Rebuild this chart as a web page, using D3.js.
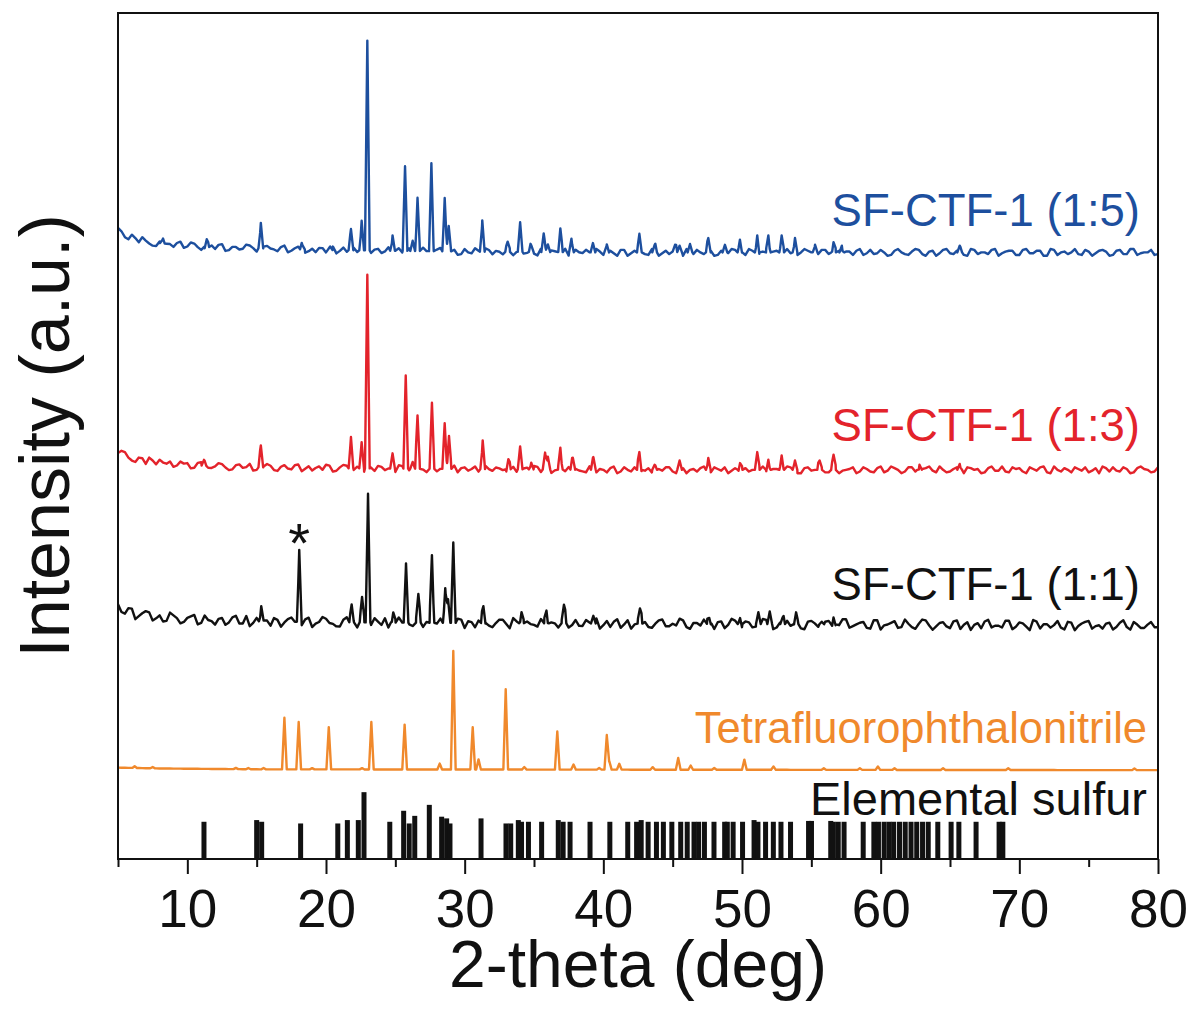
<!DOCTYPE html>
<html>
<head>
<meta charset="utf-8">
<script src="https://cdn.jsdelivr.net/npm/d3@7"></script>
<style>
  body { margin: 0; background: #fff; }
  text { font-family: "Liberation Sans", Arial, Helvetica, sans-serif; }
</style>
</head>
<body>
<svg id="chart" width="1194" height="1016"></svg>
<script>
// ---------- data (2-theta in degrees, intensity in a.u.) ----------
const xTicks = [10, 20, 30, 40, 50, 60, 70, 80];
const xMinorTicks = [5, 15, 25, 35, 45, 55, 65, 75];

const seriesNames = ["SF-CTF-1 (1:5)", "SF-CTF-1 (1:3)", "SF-CTF-1 (1:1)", "Tetrafluorophthalonitrile"];
const seriesColors = ["#1d4f9e", "#e3232b", "#111111", "#f0892c"];
const seriesOffsets = [717, 460, 279, 106];

// slowly varying background [2theta, level]
const bgBlue   = [[5, 26], [5.5, 20], [6, 17], [7, 13], [8, 11], [10, 8], [12, 6], [15, 5], [20, 3], [25, 2], [30, 1], [40, 0], [80, 0]];
const bgRed    = [[5, 22], [5.5, 17], [6, 14], [7, 11], [8, 9], [10, 6], [12, 4], [15, 3], [20, 2], [30, 1], [40, 0], [80, 0]];
const bgBlack  = [[5, 18], [5.5, 14], [6, 11], [7, 9], [8, 7], [10, 5], [12, 3], [15, 2], [20, 1], [30, 0], [80, -3]];
const bgOrange = [[5, 2], [8, 1], [15, 0], [80, -1]];

// peak list [2theta, height above background]
const peaksBlue = [[8.2, 4], [11.4, 9], [15.3, 30], [18.3, 5], [20.3, 4], [21.8, 25], [22.57, 35], [22.98, 248], [24.8, 18],
  [25.7, 100], [26.25, 15], [26.6, 63], [27.6, 104], [28.56, 63], [28.85, 30], [31.27, 37], [33.1, 12], [34.0, 32],
  [34.8, 8], [35.7, 22], [36.0, 12], [36.9, 28], [37.7, 16], [39.25, 15], [40.24, 8], [42.6, 22], [43.7, 9], [45.17, 9],
  [45.5, 11], [46.25, 9], [47.57, 17], [48.77, 9], [49.85, 15], [51.1, 20], [51.9, 20], [52.86, 20], [53.82, 17],
  [55.27, 9], [56.6, 12], [57.2, 8], [65.7, 8]];
const peaksRed = [[11.2, 7], [15.3, 26], [21.8, 37], [22.57, 31], [22.98, 229], [24.8, 18], [25.75, 112], [26.25, 9],
  [26.6, 63], [27.64, 78], [28.56, 54], [28.87, 39], [31.3, 34], [33.15, 12], [34.0, 28], [34.8, 8], [35.8, 20],
  [36.0, 13], [36.9, 26], [37.8, 14], [39.28, 15], [42.6, 21], [43.7, 6], [45.5, 7], [47.57, 14], [49.86, 8],
  [51.1, 21], [51.9, 12], [52.86, 17], [53.82, 11], [55.6, 11], [56.6, 18], [62.8, 6], [65.7, 7]];
const peaksBlack = [[15.33, 18], [18.07, 85], [21.85, 21], [22.6, 30], [23.03, 152], [24.85, 12], [25.77, 70],
  [26.66, 34], [27.64, 80], [28.6, 41], [28.8, 28], [29.18, 95], [31.35, 20], [34.1, 13], [35.9, 15], [37.16, 22],
  [39.28, 9], [42.64, 18], [47.64, 7], [49.86, 7], [51.18, 14], [52.0, 15], [52.93, 8], [53.9, 14], [55.75, 9], [56.6, 8]];
const peaksOrange = [[6.2, 2], [7.5, 1.5], [13.5, 1.5], [14.4, 1.5], [15.5, 1.5], [17.0, 61], [18.03, 56], [19.0, 1.5],
  [20.2, 50], [22.6, 1.5], [23.27, 56], [25.67, 53], [28.2, 7], [29.18, 140], [30.58, 50], [31.0, 12], [32.96, 95],
  [34.3, 3], [36.68, 45], [37.85, 6], [39.7, 2], [40.25, 41], [40.43, 10], [41.15, 7], [43.56, 3], [45.4, 14],
  [46.3, 5], [48.0, 2], [50.17, 12], [52.27, 4], [55.9, 2], [58.5, 2], [59.8, 4], [61.0, 2], [64.5, 2], [69.2, 2], [78.3, 2]];

// detector noise sampled every 0.5 deg from 5.00 deg ...
const noiseBlue = [
  3, -2, 4, -3, 1, -4, 2, 0, -3, 4,
  -1, 3, -4, 2, -2, 4, -3, 1, -1, 3,
  -4, 2, 0, -3, 4, -2, 3, -4, 1, 2,
  -3, 4, -1, -2, 3, -4, 2, 1, -3, 4,
  0, -2, 3, -4, 4, -1, 2, -3, 1, -4,
  3, -2, 1, 4, -3, 0, 2, -4, 3, -1,
  -2, 4, -3, 1, 2, -4, 3, -1, 0, 4,
  -3, 2, -4, 3, -1, 1, -2, 4, -4, 2,
  1, -3, 4, -2, 0, 3, -4, 2, -1, 3,
  -2, 4, -3, 1, -4, 2, 3, -1, -3, 4,
  0, -2, 3, -4, 2, 1, -3, 4, -1, -2,
  3, -4, 2, 0, -3, 4, -2, 1, -4, 3,
  -1, 2, -3, 4, -2, 0, 3, -4, 1, 2,
  -3, 4, -1, 2, -4, 3, 0, -2, 4, -3,
  1, -1, 3, -4, 2, -2, 4, -3, 0, 3,
  -2, 1, -4, 3, -1, 2, -3, 4, -2, 1];
const noiseRed = [
  -2, 4, -3, 2, -4, 1, 3, -1, -4, 3,
  2, -3, 4, -2, 0, 3, -4, 2, -1, 4,
  -3, 1, 2, -4, 3, -2, 4, -1, -3, 2,
  4, -4, 1, 3, -2, -1, 4, -3, 2, 0,
  -4, 3, -2, 4, -1, 2, -3, 1, 3, -4,
  2, 0, -3, 4, -2, 1, -4, 3, -1, 2,
  4, -3, 2, -1, -4, 3, 1, -2, 4, -3,
  0, 2, -4, 3, -2, 4, -1, -3, 1, 3,
  -2, 4, -4, 1, 2, -3, 3, -1, -4, 2,
  3, -2, 0, 4, -3, 1, -2, 3, -4, 2,
  -1, 4, -3, 2, -4, 0, 3, -2, 1, -3,
  4, -1, 2, -4, 3, -2, 1, 4, -3, 0,
  -2, 3, -4, 2, 1, -3, 4, -1, -2, 3,
  2, -4, 1, 3, -3, 4, -2, 0, 3, -1,
  -3, 2, 4, -2, -1, 3, -4, 2, 1, -3,
  3, -2, 1, -3, 4, -1, 2, -4, 3, -2];
const noiseBlack = [
  4, -3, 6, -2, 5, -5, 2, -4, 3, -6,
  1, 5, -4, 0, -5, 3, -2, 6, -3, -6,
  4, 1, -5, 2, -1, 5, -4, 3, -6, 0,
  4, -2, -5, 6, -1, 2, -4, 5, -3, -6,
  3, 0, -2, 4, -5, 6, -1, -4, 2, 5,
  -6, 1, 3, -3, -5, 4, -1, 6, -4, 2,
  -2, 5, -6, 0, 3, -5, 4, -3, 1, 6,
  -2, -4, 5, -1, -6, 3, 2, -5, 4, -3,
  0, 6, -4, 1, -2, 5, -6, 3, -1, 4,
  -5, 2, -3, 6, 0, -4, 5, -2, 1, -6,
  4, -3, 3, -5, -1, 6, -2, 2, -4, 5,
  -6, 0, 4, -3, 1, -5, 6, -1, -2, 3,
  -4, 5, 0, -6, 2, 4, -3, -1, 5, -5,
  3, -2, 6, -4, 1, 0, -3, 4, -6, 2,
  5, -1, -4, 3, -2, 6, -5, 1, -3, 4,
  -2, 3, -5, 2, -1, 4, -3, 1, -4, 2];
// ... and at the midpoints, every 0.5 deg from 5.25 deg
const noiseBlueMid = [
  2, -3, 1, 4, -2, -4, 3, 0, 2, -3,
  4, -1, -3, 2, 3, -4, 1, -2, 4, 0,
  -3, 3, -1, 2, -4, 1, 4, -2, -3, 2,
  0, -4, 3, 1, -2, 4, -3, 2, -1, -4,
  3, 1, -3, 2, 0, -4, 4, -1, 2, -3,
  -1, 4, -4, 2, 1, -3, 3, 0, -2, 4,
  -4, 1, 2, -3, 4, -2, 0, 3, -4, 1,
  2, -1, 3, -4, 2, 0, -3, 4, -1, -2,
  4, -4, 1, 3, -2, 2, -3, 0, 4, -1,
  -3, 2, -4, 3, 1, -2, 4, -3, 0, 2,
  -1, 3, -2, 4, -4, 1, 2, -3, 3, -1,
  0, -3, 4, -2, 1, 3, -4, 2, -1, 4,
  -2, 1, -4, 3, 0, -2, 4, -1, 2, -3,
  3, -1, 2, -4, 4, -3, 1, 0, -2, 3,
  -4, 2, 1, -3, 3, -2, 4, -1, 0, -3];
const noiseRedMid = [
  3, -1, -4, 2, 4, -3, 0, 2, -2, 1,
  -4, 3, 1, -2, 4, -1, -3, 3, 0, -4,
  2, 4, -3, 1, -1, 3, -4, 2, 0, -2,
  3, -3, 4, -1, 2, -4, 1, 3, -2, 0,
  4, -2, -1, 3, -4, 2, 0, -3, 4, 1,
  -2, 3, -4, 0, 2, -1, 4, -3, 1, -2,
  3, 0, -4, 2, -2, 4, -1, -3, 2, 1,
  -3, 4, -2, 0, 3, -4, 2, 1, -1, 3,
  -4, 2, 0, -2, 4, -3, 1, 3, -1, -4,
  2, 0, 3, -3, 1, -2, 4, -1, -4, 3,
  0, 2, -3, 4, -1, 1, -4, 3, -2, 2,
  -3, 4, 0, -2, 3, -4, 2, -1, 4, -3,
  1, -2, 3, 0, -4, 2, -1, 4, -3, 1,
  -2, 3, -1, 4, -4, 0, 2, -3, 1, 3,
  -1, -4, 2, 3, -2, 1, -3, 4, 0, -2];
const noiseBlackMid = [
  -3, 5, -6, 2, 4, -2, -5, 6, 0, -4,
  3, -6, 5, -1, 2, -5, 4, -3, 6, -2,
  -5, 1, 4, -6, 3, 0, -4, 5, -2, 6,
  -1, -5, 3, 2, -6, 4, -3, 1, 5, -4,
  6, -2, -4, 3, 1, -6, 5, -1, -3, 4,
  2, -5, 6, -3, 0, 4, -6, 2, 3, -1,
  -4, 5, 1, -5, 6, -2, -3, 4, 0, -6,
  3, 2, -5, 4, -1, 6, -4, 0, 5, -3,
  -2, 4, -6, 1, 5, -3, 2, -5, 6, -1,
  3, -4, 0, 5, -6, 2, 4, -2, -5, 3,
  1, -6, 4, -2, 6, -4, 0, 3, -5, 5,
  -1, 2, -4, 6, -3, 1, 5, -6, 2, -2,
  4, -5, 3, 0, -4, 6, -1, -3, 5, -2,
  2, -6, 4, 1, -3, 5, -5, 3, -1, 4,
  -4, 0, 2, -5, 3, -2, 4, -3, 1, -2];
const noiseOrange = [];
const noiseOrangeMid = [];

// reference stick pattern of elemental sulfur [2theta, relative intensity]
const sulfurSticks = [[11.2, 44], [15.0, 46], [15.36, 44], [18.17, 42], [20.85, 42], [21.54, 46], [22.33, 46],
  [22.74, 79], [24.6, 44], [25.6, 57], [26.0, 42], [26.4, 51], [27.45, 64], [28.34, 50], [28.7, 48], [28.94, 42],
  [31.18, 48], [32.98, 42], [33.32, 42], [33.87, 46], [34.1, 44], [34.6, 44], [35.55, 44], [36.75, 46], [37.1, 44],
  [37.6, 44], [39.04, 44], [40.47, 44], [41.76, 44], [42.4, 44], [42.73, 46], [43.23, 44], [43.83, 44], [44.33, 44],
  [44.94, 44], [45.58, 44], [46.05, 44], [46.54, 44], [46.87, 44], [47.29, 44], [47.98, 44], [48.75, 44], [48.94, 44],
  [49.36, 44], [50.04, 44], [50.87, 46], [51.15, 44], [51.7, 44], [52.26, 44], [52.81, 44], [53.5, 44], [54.8, 45],
  [55.01, 45], [56.4, 45], [56.59, 44], [56.94, 44], [57.36, 44], [58.74, 44], [59.51, 44], [59.84, 44], [60.25, 44],
  [60.61, 44], [60.94, 44], [61.36, 44], [61.77, 44], [62.19, 44], [62.6, 44], [63.02, 44], [63.43, 44], [64.12, 44],
  [65.08, 44], [65.64, 44], [66.88, 44], [68.54, 44], [68.81, 44]];

// ---------- layout ----------
const svg = d3.select("#chart");
const W = 1194, H = 1016;
const plot = { left: 118, right: 1158, top: 13, bottom: 859 };

svg.append("rect").attr("width", W).attr("height", H).attr("fill", "#fff");

const x = d3.scaleLinear().domain([5, 80]).range([plot.left, plot.right]);
const y = d3.scaleLinear().domain([0, 1000]).range([plot.bottom, plot.top]);

const NOISE_START = 5, NOISE_STEP = 0.5, PEAK_HALF_WIDTH = 0.17;

function background(bg, t) {
  for (let i = 0; i < bg.length - 1; i++) {
    const [x0, v0] = bg[i], [x1, v1] = bg[i + 1];
    if (t >= x0 && t <= x1) return v0 + (v1 - v0) * (t - x0) / (x1 - x0);
  }
  return bg[bg.length - 1][1];
}

// builds a pattern from its background, sampled noise and peak list
function buildPattern(offset, bg, noise, noiseMid, peaks) {
  const pts = new Map();
  const nGrid = Math.round((80 - NOISE_START) / NOISE_STEP) + 1;
  for (let i = 0; i < nGrid; i++) {
    const t = +(NOISE_START + i * NOISE_STEP).toFixed(3);
    pts.set(t, noise.length ? noise[i] : 0);
    if (i < nGrid - 1) {
      const tm = +(t + NOISE_STEP / 2).toFixed(3);
      pts.set(tm, noiseMid.length ? noiseMid[i] : 0);
    }
  }
  peaks.forEach(([p]) => {
    [p - PEAK_HALF_WIDTH, p, p + PEAK_HALF_WIDTH].forEach(t => {
      const k = +t.toFixed(3);
      if (k >= 5 && k <= 80 && !pts.has(k)) pts.set(k, 0);
    });
  });
  return Array.from(pts.entries())
    .sort((a, b) => a[0] - b[0])
    .map(([t, n]) => {
      let v = offset + background(bg, t) + n;
      peaks.forEach(([p, h]) => {
        const d = Math.abs(t - p);
        if (d < PEAK_HALF_WIDTH) v += h * (1 - d / PEAK_HALF_WIDTH);
      });
      return [t, v];
    });
}

const patterns = [
  buildPattern(seriesOffsets[0], bgBlue, noiseBlue, noiseBlueMid, peaksBlue),
  buildPattern(seriesOffsets[1], bgRed, noiseRed, noiseRedMid, peaksRed),
  buildPattern(seriesOffsets[2], bgBlack, noiseBlack, noiseBlackMid, peaksBlack),
  buildPattern(seriesOffsets[3], bgOrange, noiseOrange, noiseOrangeMid, peaksOrange)
];

const line = d3.line().x(d => x(d[0])).y(d => y(d[1]));

// sulfur reference sticks
svg.append("g").selectAll("rect")
  .data(sulfurSticks)
  .join("rect")
  .attr("x", d => x(d[0]) - 2.5)
  .attr("width", 5)
  .attr("y", d => y(d[1]))
  .attr("height", d => y(0) - y(d[1]))
  .attr("fill", "#111");

// diffraction patterns (orange first, blue last)
const strokeWidths = [2.4, 2.4, 2.4, 2.4];
svg.append("g").selectAll("path")
  .data(patterns.map((p, i) => ({ p, i })).reverse())
  .join("path")
  .attr("d", d => line(d.p))
  .attr("fill", "none")
  .attr("stroke", d => seriesColors[d.i])
  .attr("stroke-width", d => strokeWidths[d.i])
  .attr("stroke-linejoin", "round");

// series labels
const labelPos = [[1140, 226], [1140, 441], [1140, 600], [1147, 743]];
const labelSizes = [45.5, 45.5, 45.5, 43.5];
seriesNames.forEach((name, i) => {
  svg.append("text")
    .attr("x", labelPos[i][0]).attr("y", labelPos[i][1])
    .attr("text-anchor", "end")
    .attr("font-size", labelSizes[i])
    .attr("fill", seriesColors[i])
    .text(name);
});
svg.append("text")
  .attr("x", 1147).attr("y", 815)
  .attr("text-anchor", "end")
  .attr("font-size", 47)
  .attr("fill", "#111")
  .text("Elemental sulfur");

// impurity marker above the 18 deg reflection
svg.append("text")
  .attr("x", x(peaksBlack[1][0])).attr("y", 562)
  .attr("text-anchor", "middle")
  .attr("font-size", 56)
  .attr("fill", "#111")
  .text("*");

// frame
svg.append("rect")
  .attr("x", plot.left).attr("y", plot.top)
  .attr("width", plot.right - plot.left).attr("height", plot.bottom - plot.top)
  .attr("fill", "none").attr("stroke", "#111").attr("stroke-width", 2);

// x axis: major and minor ticks
const axisMajor = d3.axisBottom(x).tickValues(xTicks).tickSize(15).tickPadding(15).tickFormat(d3.format("d"));
const gMaj = svg.append("g").attr("transform", `translate(0,${plot.bottom})`).call(axisMajor);
gMaj.select(".domain").remove();
gMaj.selectAll(".tick line").attr("stroke", "#111").attr("stroke-width", 2);
gMaj.selectAll(".tick text").attr("font-size", 53).attr("fill", "#111")
  .attr("font-family", "'Liberation Sans', Arial, sans-serif");

const axisMinor = d3.axisBottom(x).tickValues(xMinorTicks).tickSize(8).tickFormat("");
const gMin = svg.append("g").attr("transform", `translate(0,${plot.bottom})`).call(axisMinor);
gMin.select(".domain").remove();
gMin.selectAll(".tick line").attr("stroke", "#111").attr("stroke-width", 2);

// axis titles
svg.append("text")
  .attr("x", (plot.left + plot.right) / 2).attr("y", 987)
  .attr("text-anchor", "middle")
  .attr("font-size", 66)
  .attr("fill", "#111")
  .text("2-theta (deg)");

svg.append("text")
  .attr("transform", `translate(69,${(plot.top + plot.bottom) / 2}) rotate(-90)`)
  .attr("text-anchor", "middle")
  .attr("font-size", 70)
  .attr("fill", "#111")
  .text("Intensity (a.u.)");
</script>
</body>
</html>
